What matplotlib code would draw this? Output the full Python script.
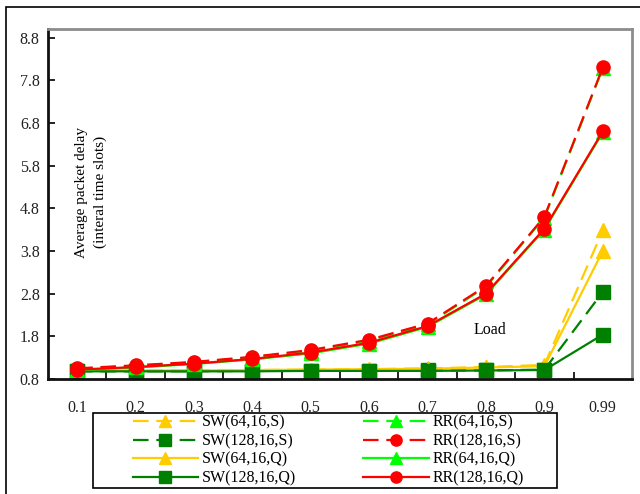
#!/usr/bin/env python3

import matplotlib
matplotlib.use("Agg")
from matplotlib import patches
from matplotlib.pyplot import figure, savefig, close, rcParams

loads = ["0.1", "0.2", "0.3", "0.4", "0.5", "0.6", "0.7", "0.8", "0.9", "0.99"]

sw_64_s = [1.00, 1.00, 1.01, 1.01, 1.02, 1.03, 1.05, 1.08, 1.13, 4.28]
sw_128_s = [0.98, 0.98, 0.98, 0.99, 0.99, 0.99, 1.00, 1.00, 1.02, 2.84]
sw_64_q = [1.00, 1.00, 1.00, 1.01, 1.02, 1.03, 1.04, 1.07, 1.10, 3.80]
sw_128_q = [0.98, 0.98, 0.98, 0.98, 0.99, 0.99, 0.99, 1.00, 1.01, 1.84]
rr_64_s = [1.04, 1.11, 1.19, 1.31, 1.46, 1.70, 2.08, 2.96, 4.58, 8.08]
rr_128_s = [1.05, 1.12, 1.20, 1.32, 1.48, 1.72, 2.10, 2.98, 4.60, 8.10]
rr_64_q = [1.01, 1.07, 1.15, 1.26, 1.40, 1.63, 2.02, 2.78, 4.30, 6.58]
rr_128_q = [1.02, 1.08, 1.16, 1.27, 1.42, 1.65, 2.04, 2.80, 4.32, 6.60]

yticks = [0.8, 1.8, 2.8, 3.8, 4.8, 5.8, 6.8, 7.8, 8.8]

YELLOW = "#ffcc00"
DKGREEN = "#008000"
GREEN = "#00ff00"
RED = "#ff0000"

rcParams["font.family"] = ["Liberation Serif", "DejaVu Serif"]
rcParams["font.size"] = 11

W, H = 640, 494
fig = figure(figsize=(W / 100, H / 100), dpi=100)

# chart area frame (runs off the right and bottom edges)
fig.add_artist(patches.Rectangle(
    (6 / W, -0.05), 1.2, 1 - 7 / H + 0.05,
    transform=fig.transFigure, fill=False, ec="k", lw=1.2))

ax = fig.add_axes([48 / W, 1 - 379 / H, (632 - 48) / W, (379 - 29) / H])
x = list(range(len(loads)))

dash = (0, (7, 3.5))
series = [
    (sw_64_s, "SW(64,16,S)", YELLOW, "^", dash),
    (sw_128_s, "SW(128,16,S)", DKGREEN, "s", dash),
    (sw_64_q, "SW(64,16,Q)", YELLOW, "^", "-"),
    (sw_128_q, "SW(128,16,Q)", DKGREEN, "s", "-"),
    (rr_64_s, "RR(64,16,S)", GREEN, "^", dash),
    (rr_128_s, "RR(128,16,S)", RED, "o", dash),
    (rr_64_q, "RR(64,16,Q)", GREEN, "^", "-"),
    (rr_128_q, "RR(128,16,Q)", RED, "o", "-"),
]
handles = []
for vals, name, color, marker, ls in series:
    (h,) = ax.plot(x, vals, color=color, marker=marker, ls=ls, lw=1.6,
                   ms=9.5, mec=color, mfc=color, label=name, clip_on=False)
    handles.append(h)

ax.set_xlim(-0.5, 9.5)
ax.set_ylim(0.8, 9.0)
ax.set_yticks(yticks)
ax.set_yticklabels(["%.1f" % v for v in yticks])
ax.set_xticks(x)
ax.set_xticklabels(loads)
ax.set_xticks([i + 0.5 for i in range(9)], minor=True)
ax.tick_params(axis="x", which="major", length=0, pad=15, labelsize=11.5,
               colors="#222222")
ax.tick_params(axis="x", which="minor", direction="in", length=5, width=1.2)
ax.tick_params(axis="y", direction="in", length=5, width=1.2, pad=6,
               labelsize=11.5, labelcolor="#222222")

for side in ("top", "right"):
    ax.spines[side].set_color("#8c8c8c")
    ax.spines[side].set_linewidth(2)
for side in ("left", "bottom"):
    ax.spines[side].set_color("#111111")
    ax.spines[side].set_linewidth(2)

fig.text(91 / W, 1 - 192 / H, "Average packet delay\n(interal time slots)",
         rotation=90, ha="center", va="center", multialignment="center",
         linespacing=1.55, fontsize=11)
fig.text(490 / W, 1 - 330 / H, "Load", ha="center", va="center", fontsize=11.5)

# legend box drawn separately so the padding can be wider than tall
fig.add_artist(patches.Rectangle(
    (93 / W, 1 - 488 / H), (557 - 93) / W, (488 - 413) / H,
    transform=fig.transFigure, fill=False, ec="k", lw=1.2))
leg = fig.legend(handles=handles, ncol=2, loc="upper left",
                 bbox_to_anchor=(131 / W, 1 - 413 / H), frameon=False,
                 fontsize=11.5, handlelength=4.1, handletextpad=0.25,
                 columnspacing=4.2, labelspacing=0.16, borderpad=0.1,
                 borderaxespad=0, numpoints=1, markerscale=0.85)

savefig("out.png", dpi=100)
close()
